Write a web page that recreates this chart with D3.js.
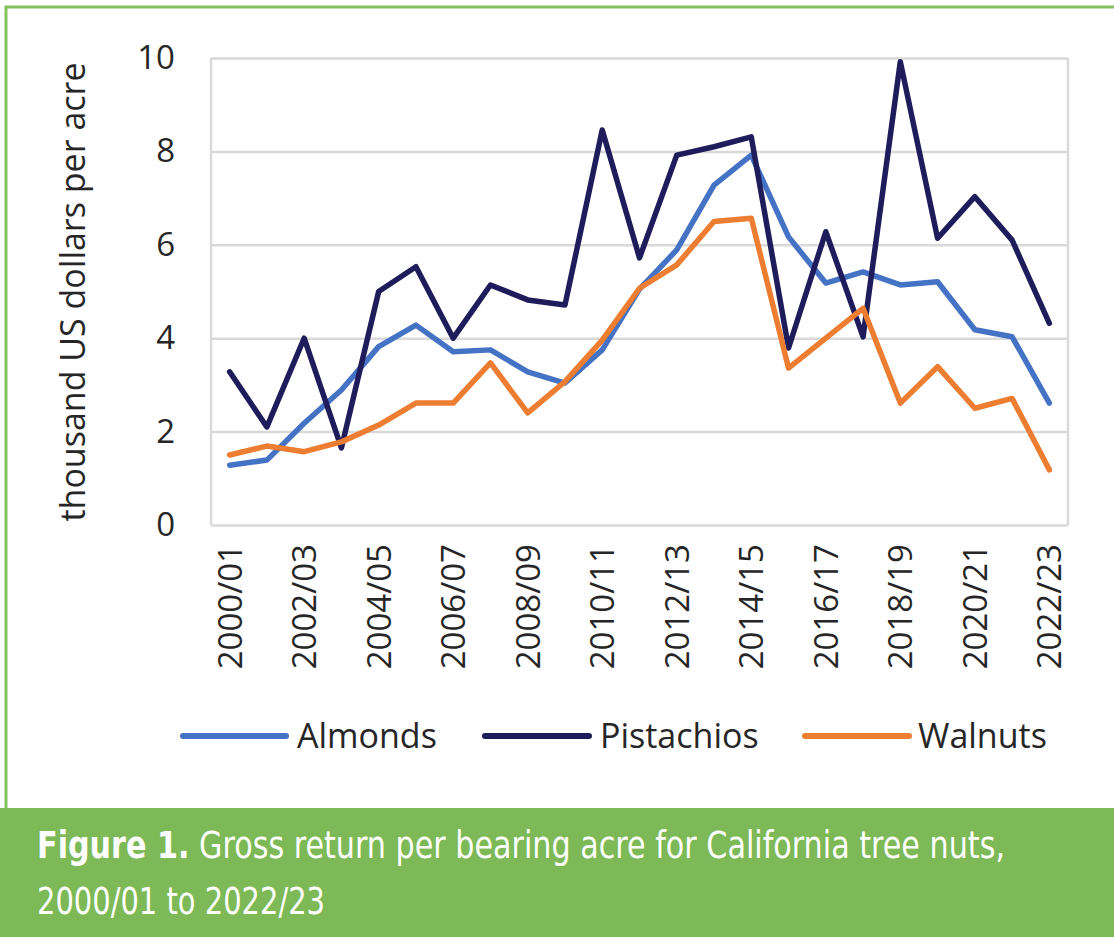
<!DOCTYPE html>
<html>
<head>
<meta charset="utf-8">
<script src="https://cdn.jsdelivr.net/npm/d3@7"></script>
<style>
  html, body { margin: 0; padding: 0; background: #fff; }
  svg { display: block; }
</style>
</head>
<body>
<svg id="chart" width="1114" height="937"></svg>
<script>
const categories = ["2000/01","2001/02","2002/03","2003/04","2004/05","2005/06","2006/07","2007/08","2008/09","2009/10","2010/11","2011/12","2012/13","2013/14","2014/15","2015/16","2016/17","2017/18","2018/19","2019/20","2020/21","2021/22","2022/23"];
const almonds    = [1.28,1.39,2.18,2.89,3.82,4.28,3.71,3.75,3.28,3.04,3.75,5.05,5.89,7.28,7.92,6.17,5.18,5.42,5.14,5.21,4.18,4.03,2.61];
const pistachios = [3.28,2.10,4.00,1.65,5.00,5.53,4.00,5.14,4.82,4.71,8.46,5.72,7.92,8.10,8.31,3.79,6.28,4.03,9.92,6.14,7.03,6.10,4.32];
const walnuts    = [1.50,1.69,1.57,1.78,2.14,2.61,2.61,3.47,2.40,3.07,3.96,5.07,5.57,6.50,6.57,3.36,4.00,4.64,2.61,3.39,2.50,2.71,1.18];
const yTicks = [0,2,4,6,8,10];
const seriesNames = ["Almonds","Pistachios","Walnuts"];
const seriesColors = ["#4472C4","#1F1C5C","#ED7D31"];
const yTitle = "thousand US dollars per acre";
const captionBold = "Figure 1.";
const captionRest = " Gross return per bearing acre for California tree nuts,";
const captionLine2 = "2000/01 to 2022/23";

const svg = d3.select("#chart");
const W = 1114, H = 937;
const green = "#7DB956";
const font = "'Open Sans', 'Noto Sans', sans-serif";
const textColor = "#262626";

// Frame
svg.append("rect").attr("x",0).attr("y",0).attr("width",W).attr("height",H).attr("fill","#fff");
svg.append("rect").attr("x",6).attr("y",7).attr("width",W+10).attr("height",820)
  .attr("fill","none").attr("stroke","#84C25C").attr("stroke-width",3);
svg.append("rect").attr("x",0).attr("y",808).attr("width",W).attr("height",H-808).attr("fill",green);

// Scales
const x = d3.scaleBand().domain(categories).range([211,1068]).padding(0);
const y = d3.scaleLinear().domain([0,10]).range([525,58]);
const cx = c => x(c) + x.bandwidth()/2;

// Gridlines
const grid = svg.append("g").attr("transform","translate(211,0)")
  .call(d3.axisLeft(y).tickValues(yTicks).tickSize(-(1068-211)).tickFormat(""));
grid.select(".domain").remove();
grid.selectAll(".tick line").attr("stroke","#D9D9D9").attr("stroke-width",2.5);

// Plot border (left/right)
svg.append("line").attr("x1",211).attr("x2",211).attr("y1",y(10)).attr("y2",y(0)).attr("stroke","#D9D9D9").attr("stroke-width",2.5);
svg.append("line").attr("x1",1068).attr("x2",1068).attr("y1",y(10)).attr("y2",y(0)).attr("stroke","#D9D9D9").attr("stroke-width",2.5);

// Y axis labels
const yAxis = svg.append("g").attr("transform","translate(211,0)")
  .call(d3.axisLeft(y).tickValues(yTicks).tickSize(0).tickPadding(36));
yAxis.select(".domain").remove();
yAxis.selectAll("text").attr("font-family",font).attr("font-size",33).attr("fill",textColor);

// X axis labels (every other category)
const xAxis = svg.append("g").attr("transform",`translate(0,${y(0)})`)
  .call(d3.axisBottom(x).tickValues(categories.filter((d,i)=>i%2===0)).tickSize(0).tickPadding(0));
xAxis.select(".domain").remove();
xAxis.selectAll(".tick text")
  .attr("font-family",font).attr("font-size",33).attr("fill",textColor)
  .attr("text-anchor","end")
  .attr("transform","rotate(-90)")
  .attr("x",-19).attr("y",0).attr("dy","0.36em");

// Y title
svg.append("text").attr("transform","translate(73,292) rotate(-90)")
  .attr("text-anchor","middle").attr("dy","0.36em")
  .attr("font-family",font).attr("font-size",34).attr("fill",textColor)
  .text(yTitle);

// Lines
const seriesData = [almonds, pistachios, walnuts];
const line = d3.line().x((d,i)=>cx(categories[i])).y(d=>y(d));
seriesData.forEach((vals,k)=>{
  svg.append("path").datum(vals)
    .attr("fill","none").attr("stroke",seriesColors[k]).attr("stroke-width",5.5)
    .attr("stroke-linejoin","round").attr("stroke-linecap","round")
    .attr("d",line);
});

// Legend
const legendItems = [
  {lx1:183, lx2:286, tx:297},
  {lx1:485, lx2:589, tx:600},
  {lx1:805, lx2:909, tx:918}
];
const ly = 736;
seriesNames.forEach((name,k)=>{
  const it = legendItems[k];
  svg.append("line").attr("x1",it.lx1).attr("x2",it.lx2).attr("y1",ly).attr("y2",ly)
    .attr("stroke",seriesColors[k]).attr("stroke-width",6).attr("stroke-linecap","round");
  svg.append("text").attr("x",it.tx).attr("y",ly).attr("dy","0.36em")
    .attr("font-family",font).attr("font-size",34).attr("fill",textColor).text(name);
});

// Caption
const capFont = "'Liberation Sans Narrow', 'DejaVu Sans Condensed', 'Roboto', sans-serif";
const cap1 = svg.append("text").attr("x",37).attr("y",858)
  .attr("font-family",capFont).attr("font-size",37).attr("fill","#fff")
  .attr("textLength",968).attr("lengthAdjust","spacingAndGlyphs");
cap1.append("tspan").attr("font-weight","bold").text(captionBold);
cap1.append("tspan").attr("font-weight","300").text(captionRest);
svg.append("text").attr("x",37).attr("y",914)
  .attr("font-family",capFont).attr("font-size",37).attr("fill","#fff")
  .attr("textLength",288).attr("lengthAdjust","spacingAndGlyphs")
  .text(captionLine2);
</script>
</body>
</html>
